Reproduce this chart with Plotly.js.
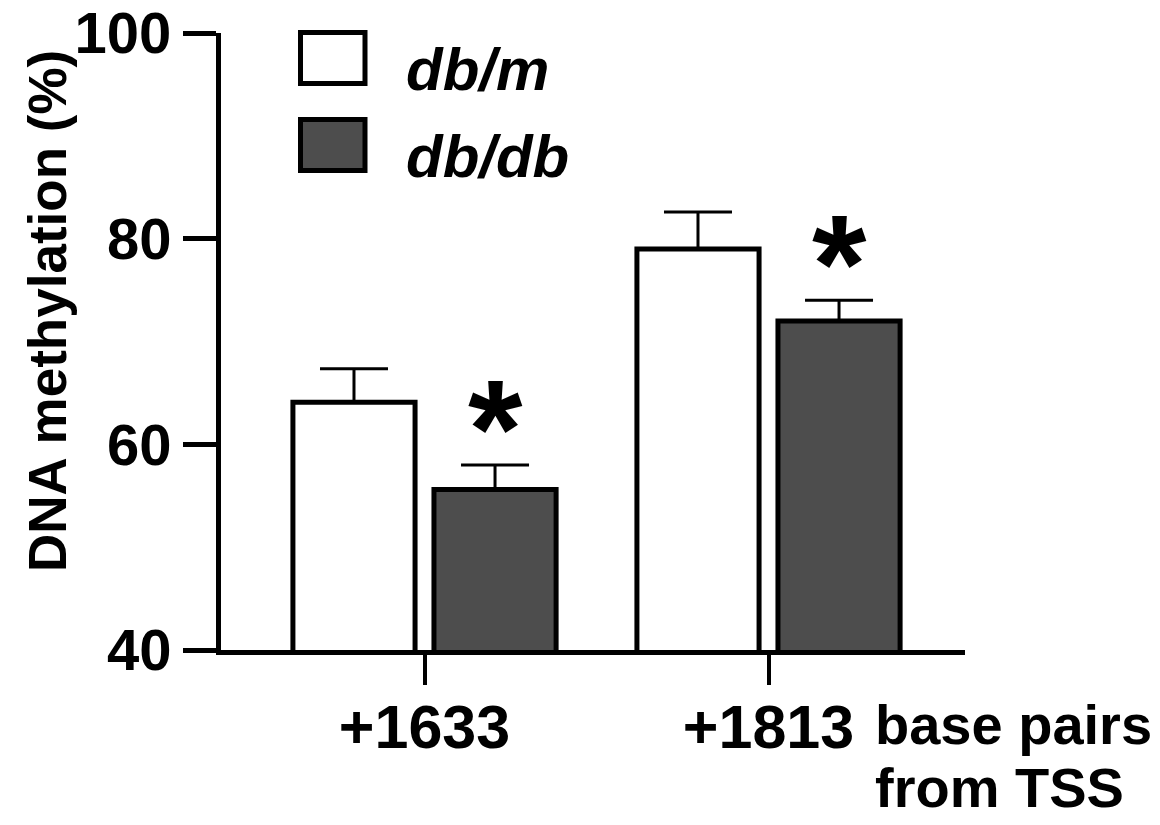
<!DOCTYPE html>
<html>
<head>
<meta charset="utf-8">
<script src="https://cdn.plot.ly/plotly-3.0.1.min.js"></script>
<style>html,body{margin:0;padding:0;background:#fff;}#chart{width:1160px;height:825px;}</style>
</head>
<body>
<div id="chart"></div>
<script>
// ---- data ----
var categories = ["+1633", "+1813"];
var seriesNames = ["db/m", "db/db"];
var dbm = [64.1, 79.0];
var dbmErr = [3.25, 3.6];
var dbdb = [55.6, 72.0];
var dbdbErr = [2.4, 2.0];
var yTicks = [40, 60, 80, 100];
var xUnitLines = ["base pairs", "from TSS"];

// ---- layout geometry ----
var W = 1160, H = 825;
var M = {l: 221, r: 195, t: 33, b: 175};
var PW = W - M.l - M.r, PH = H - M.t - M.b;
function px2x(px) { return (px - M.l) / PW; }
function px2y(py) { return (H - M.b - py) / PH; }

var FONT = "Liberation Sans, Arial, sans-serif";
var xIdx = categories.map(function (c, i) { return i; });

function upperOnly(err) { return {type: "data", array: err, arrayminus: err.map(function(){return 0;}), symmetric: false, color: "#000", thickness: 3, width: 34}; }

var t1 = {
  type: "bar", x: xIdx, y: dbm, name: seriesNames[0],
  marker: {color: "#ffffff", line: {color: "#000", width: 5}},
  error_y: upperOnly(dbmErr), hoverinfo: "skip", showlegend: false
};
var t2 = {
  type: "bar", x: xIdx, y: dbdb, name: seriesNames[1],
  marker: {color: "#4d4d4d", line: {color: "#000", width: 5}},
  error_y: upperOnly(dbdbErr), hoverinfo: "skip", showlegend: false
};

var annotations = [];
var groupOffset = 0.205;
dbdb.forEach(function (v, i) {
  annotations.push({
    x: i + groupOffset, y: v + dbdbErr[i], xref: "x", yref: "y",
    text: "*", showarrow: false, xanchor: "center", yanchor: "bottom",
    yshift: -44,
    font: {family: FONT, size: 140, color: "#000", weight: "bold"}
  });
});
annotations.push({
  x: px2x(47), y: px2y(311), xref: "paper", yref: "paper",
  text: "<b>DNA methylation (%)</b>", textangle: -90, showarrow: false,
  xanchor: "center", yanchor: "middle",
  font: {family: FONT, size: 53, color: "#000"}
});
xUnitLines.forEach(function (t, i) {
  annotations.push({
    x: px2x(874), y: px2y(692 + 63 * i), xref: "paper", yref: "paper",
    text: "<b>" + t + "</b>", showarrow: false, align: "left",
    xanchor: "left", yanchor: "top", borderpad: 0,
    font: {family: FONT, size: 56, color: "#000"}
  });
});
var legendY = [58, 145];
seriesNames.forEach(function (n, i) {
  annotations.push({
    x: px2x(404), y: px2y(legendY[i] + 11), xref: "paper", yref: "paper",
    text: "<b><i>" + n + "</i></b>", showarrow: false, xanchor: "left", yanchor: "middle",
    font: {family: FONT, size: 60, color: "#000"}
  });
});
var legendFill = ["#ffffff", "#4d4d4d"];
var shapes = [];
legendY.forEach(function (cy, i) {
  shapes.push({
    type: "rect", xref: "paper", yref: "paper",
    x0: px2x(300.5), x1: px2x(365), y0: px2y(cy - 25.5), y1: px2y(cy + 25.5),
    fillcolor: legendFill[i], line: {color: "#000", width: 5}
  });
});

var layout = {
  width: W, height: H,
  margin: M,
  paper_bgcolor: "#fff", plot_bgcolor: "#fff",
  barmode: "group", bargap: 0.18, bargroupgap: 0.134,
  showlegend: false,
  font: {family: FONT, color: "#000"},
  xaxis: {
    type: "linear", range: [-0.5916, 1.5712],
    tickmode: "array", tickvals: xIdx, ticktext: categories.map(function(c){return "<b>" + c + "</b>";}),
    showline: true, linecolor: "#000", linewidth: 5,
    ticks: "outside", ticklen: 30, tickwidth: 4, tickcolor: "#000",
    ticklabelstandoff: -10,
    showgrid: false, zeroline: false,
    tickfont: {family: FONT, size: 61, color: "#000"},
    fixedrange: true
  },
  yaxis: {
    range: [40, 100], tickvals: yTicks, ticktext: yTicks.map(function(v){return "<b>" + v + "</b>";}),
    showline: true, linecolor: "#000", linewidth: 5,
    ticks: "outside", ticklen: 33, tickwidth: 5, tickcolor: "#000",
    showgrid: false, zeroline: false,
    tickfont: {family: FONT, size: 58, color: "#000"},
    fixedrange: true
  },
  annotations: annotations,
  shapes: shapes
};

Plotly.newPlot("chart", [t1, t2], layout, {staticPlot: true, displayModeBar: false});
</script>
</body>
</html>
